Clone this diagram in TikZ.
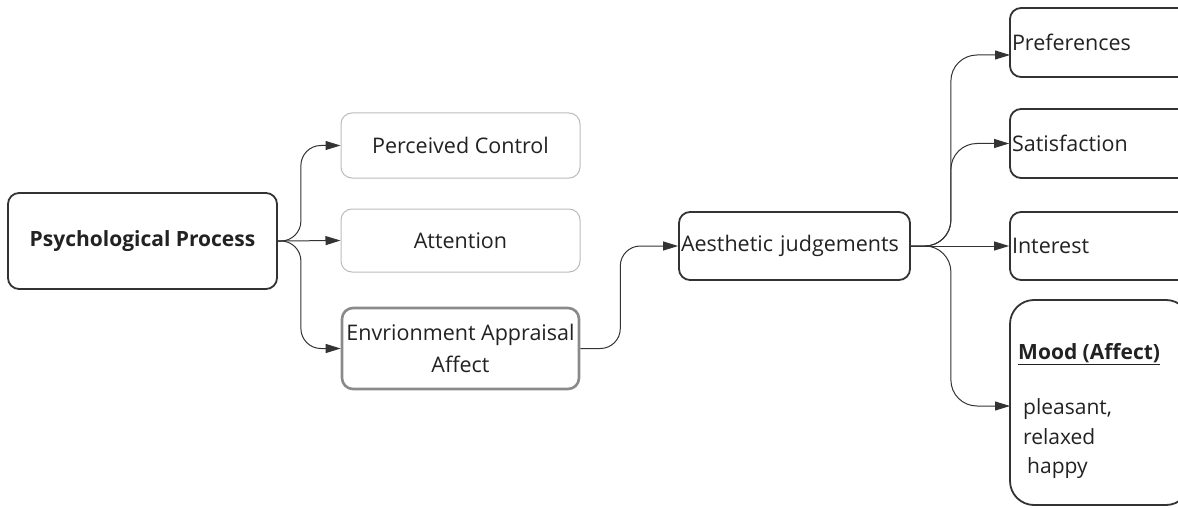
\documentclass[tikz,border=0pt]{standalone}
\usepackage{fontspec}
\setmainfont{Open Sans}
\usetikzlibrary{arrows.meta}
\definecolor{ink}{HTML}{222222}
\definecolor{edge}{HTML}{333333}
\definecolor{lightedge}{HTML}{BBBBBB}
\definecolor{midedge}{HTML}{8A8A8A}
\tikzset{
  base/.style={rectangle, rounded corners=11pt, text=ink, font=\fontsize{21.5}{32}\selectfont, inner sep=0pt},
  darkbox/.style={base, draw=edge, line width=1.8pt},
  lightbox/.style={base, draw=lightedge, line width=1pt},
  midbox/.style={base, draw=midedge, line width=2.6pt},
  leftbox/.style={darkbox, align=left, inner xsep=3pt},
  conn/.style={draw=edge, line width=1pt, rounded corners=20pt, -{Stealth[length=15pt,width=9pt,inset=0pt]}},
}
\begin{document}
\begin{tikzpicture}[x=1pt,y=-1pt]
\useasboundingbox (0,0) rectangle (1178,508);
\node[darkbox, minimum width=269pt, minimum height=96pt, font=\fontsize{21}{32}\selectfont\bfseries] (psy) at (142.5,241) {Psychological Process};
\node[lightbox, minimum width=239pt, minimum height=65pt] (pc) at (460.5,145.5) {Perceived Control};
\node[lightbox, minimum width=239pt, minimum height=63pt] (att) at (460.5,240.5) {Attention};
\node[midbox, minimum width=237pt, minimum height=81pt, align=center] (env) at (460.5,348.5) {Envrionment Appraisal\\Affect};
\node[darkbox, minimum width=231pt, minimum height=68pt, text width=227pt, align=left] (aes) at (794.5,246) {Aesthetic judgements};
\node[leftbox, minimum width=180pt, minimum height=69pt, text width=176pt, inner xsep=2pt] (pref) at (1100,42.5) {Preferences};
\node[leftbox, minimum width=180pt, minimum height=69pt, text width=176pt, inner xsep=2pt] (sat) at (1100,143.5) {Satisfaction};
\node[leftbox, minimum width=180pt, minimum height=68pt, text width=176pt, inner xsep=2pt] (int) at (1100,246) {Interest};
\node[darkbox, rounded corners=24pt, minimum width=180pt, minimum height=205pt] (mood) at (1100,402.5) {};
\node[text=ink, align=left, anchor=north west, inner sep=0pt, font=\fontsize{21}{29.5}\selectfont] (moodtxt) at (1018,343) {\underline{\textbf{Mood (Affect)}}\\[26pt]\hspace{5pt}pleasant,\\\hspace{5pt}relaxed\\\hspace{9pt}happy};
\coordinate (pin) at (1010,406);
\coordinate (prefin) at (1010,55);
\path[conn] (psy.east) -- ++(23,0) |- (pc.west);
\path[conn] (psy.east) -- (att.west);
\path[conn] (psy.east) -- ++(23,0) |- (env.west);
\path[conn] (env.east) -- ++(40,0) |- (aes.west);
\path[conn, rounded corners=26pt] (aes.east) -- ++(40,0) |- (prefin);
\path[conn, rounded corners=26pt] (aes.east) -- ++(40,0) |- (sat.west);
\path[conn] (aes.east) -- (int.west);
\path[conn, rounded corners=26pt] (aes.east) -- ++(40,0) |- (pin);
\end{tikzpicture}
\end{document}
